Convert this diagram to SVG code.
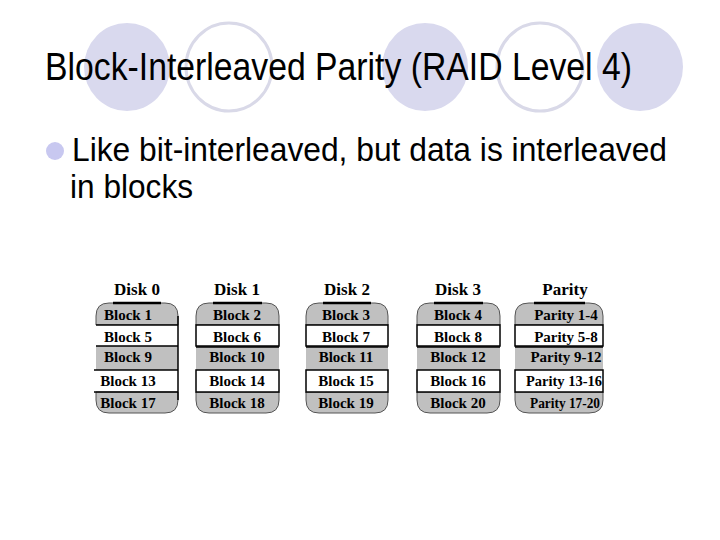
<svg xmlns="http://www.w3.org/2000/svg" width="720" height="540" viewBox="0 0 720 540">
<style>
.cf{fill:#d9d9ee;stroke:none}
.co{fill:none;stroke:#d9d9e8;stroke-width:3}
.title{font-family:"Liberation Sans",Arial,sans-serif;font-size:38px;fill:#000}
.body{font-family:"Liberation Sans",Arial,sans-serif;font-size:33px;fill:#000}
.lbl{font-family:"Liberation Serif","Times New Roman",serif;font-weight:bold;font-size:17px;text-anchor:middle;fill:#000}
.blk{font-family:"Liberation Serif","Times New Roman",serif;font-weight:bold;font-size:15px;text-anchor:middle;fill:#000}
.g{fill:#c0c0c0;stroke:#555;stroke-width:1}
.gr{fill:#c0c0c0;stroke:none}
.w{fill:#fff;stroke:#000;stroke-width:1.5}
.ln{stroke:#000;stroke-width:1.5;fill:none}
.top{stroke:#000;stroke-width:2.5}
</style>
<rect width="720" height="540" fill="#fff"/>
<g id="decor">
<ellipse class="cf" cx="127" cy="67" rx="43" ry="44"/>
<ellipse class="co" cx="229" cy="67" rx="43" ry="44"/>
<ellipse class="cf" cx="425" cy="67" rx="43" ry="44"/>
<ellipse class="co" cx="540" cy="67" rx="43" ry="44"/>
<ellipse class="cf" cx="640" cy="67" rx="43" ry="44"/>
</g>
<text id="title" class="title" x="45" y="80" textLength="587" lengthAdjust="spacingAndGlyphs">Block-Interleaved Parity (RAID Level 4)</text>
<g id="bullet">
<circle cx="55" cy="151" r="9" fill="#c8c8f0"/>
<text class="body" x="72" y="161" textLength="595" lengthAdjust="spacingAndGlyphs">Like bit-interleaved, but data is interleaved</text>
<text class="body" x="70" y="198" textLength="123" lengthAdjust="spacingAndGlyphs">in blocks</text>
</g>
<g id="disk0" transform="translate(96,0)">
<text class="lbl" x="41" y="295">Disk 0</text>
<path class="g" d="M0,325 L0,316 Q0,303 13,303 L69,303 Q82,303 82,316 L82,325 Z"/>
<rect x="0" y="325" width="82" height="21" fill="#fff"/>
<rect class="gr" x="0" y="346" width="82" height="24"/>
<rect x="-2" y="370" width="84" height="22" fill="#fff"/>
<path class="g" d="M0,392 L0,400 Q0,413 13,413 L69,413 Q82,413 82,400 L82,392 Z"/>
<line class="ln" x1="0" y1="325" x2="82" y2="325"/>
<line class="ln" x1="0" y1="346" x2="82" y2="346"/>
<line class="ln" x1="-2" y1="370" x2="82" y2="370"/>
<line class="ln" x1="-2" y1="392" x2="82" y2="392"/>
<line class="ln" x1="82" y1="316" x2="82" y2="400"/>
<line class="top" x1="17" y1="303" x2="65" y2="303"/>
<text class="blk" x="32" y="320">Block 1</text>
<text class="blk" x="32" y="342">Block 5</text>
<text class="blk" x="32" y="362">Block 9</text>
<text class="blk" x="32" y="386">Block 13</text>
<text class="blk" x="32" y="408">Block 17</text>
</g>
<g id="disk1" transform="translate(196,0)">
<text class="lbl" x="41" y="295">Disk 1</text>
<path class="g" d="M0,325 L0,316 Q0,303 13,303 L70,303 Q83,303 83,316 L83,325 Z"/>
<rect class="gr" x="0" y="346" width="83" height="24"/>
<path class="g" d="M0,392 L0,400 Q0,413 13,413 L70,413 Q83,413 83,400 L83,392 Z"/>
<rect class="w" x="0" y="325" width="83" height="21"/>
<rect class="w" x="0" y="370" width="83" height="22"/>
<line class="ln" x1="0" y1="347" x2="83" y2="347"/>
<line class="top" x1="17" y1="303" x2="66" y2="303"/>
<text class="blk" x="41" y="320">Block 2</text>
<text class="blk" x="41" y="342">Block 6</text>
<text class="blk" x="41" y="362">Block 10</text>
<text class="blk" x="41" y="386">Block 14</text>
<text class="blk" x="41" y="408">Block 18</text>
</g>
<g id="disk2" transform="translate(306,0)">
<text class="lbl" x="41" y="295">Disk 2</text>
<path class="g" d="M0,325 L0,316 Q0,303 13,303 L69,303 Q82,303 82,316 L82,325 Z"/>
<rect class="gr" x="0" y="346" width="82" height="24"/>
<path class="g" d="M0,392 L0,400 Q0,413 13,413 L69,413 Q82,413 82,400 L82,392 Z"/>
<rect class="w" x="0" y="325" width="82" height="21"/>
<rect class="w" x="0" y="370" width="82" height="22"/>
<line class="ln" x1="0" y1="347" x2="82" y2="347"/>
<line class="top" x1="17" y1="303" x2="65" y2="303"/>
<text class="blk" x="40" y="320">Block 3</text>
<text class="blk" x="40" y="342">Block 7</text>
<text class="blk" x="40" y="362">Block 11</text>
<text class="blk" x="40" y="386">Block 15</text>
<text class="blk" x="40" y="408">Block 19</text>
</g>
<g id="disk3" transform="translate(417,0)">
<text class="lbl" x="41" y="295">Disk 3</text>
<path class="g" d="M0,325 L0,316 Q0,303 13,303 L70,303 Q83,303 83,316 L83,325 Z"/>
<rect class="gr" x="0" y="346" width="83" height="24"/>
<path class="g" d="M0,392 L0,400 Q0,413 13,413 L70,413 Q83,413 83,400 L83,392 Z"/>
<rect class="w" x="0" y="325" width="83" height="21"/>
<rect class="w" x="0" y="370" width="83" height="22"/>
<line class="ln" x1="0" y1="347" x2="83" y2="347"/>
<line class="top" x1="17" y1="303" x2="66" y2="303"/>
<text class="blk" x="41" y="320">Block 4</text>
<text class="blk" x="41" y="342">Block 8</text>
<text class="blk" x="41" y="362">Block 12</text>
<text class="blk" x="41" y="386">Block 16</text>
<text class="blk" x="41" y="408">Block 20</text>
</g>
<g id="parity" transform="translate(515,0)">
<text class="lbl" x="50" y="295">Parity</text>
<path class="g" d="M0,325 L0,316 Q0,303 14,303 L74,303 Q88,303 88,316 L88,325 Z"/>
<rect class="gr" x="0" y="346" width="88" height="24"/>
<path class="g" d="M0,392 L0,400 Q0,413 14,413 L74,413 Q88,413 88,400 L88,392 Z"/>
<rect class="w" x="0" y="325" width="88" height="21"/>
<rect class="w" x="0" y="370" width="88" height="22"/>
<line class="ln" x1="0" y1="347" x2="88" y2="347"/>
<line class="top" x1="19" y1="303" x2="70" y2="303"/>
<text class="blk" x="51" y="320">Parity 1-4</text>
<text class="blk" x="51" y="342">Parity 5-8</text>
<text class="blk" x="51" y="362">Parity 9-12</text>
<text class="blk" x="49" y="386" textLength="76" lengthAdjust="spacingAndGlyphs">Parity 13-16</text>
<text class="blk" x="50" y="408" textLength="70" lengthAdjust="spacingAndGlyphs">Parity 17-20</text>
</g>
</svg>
